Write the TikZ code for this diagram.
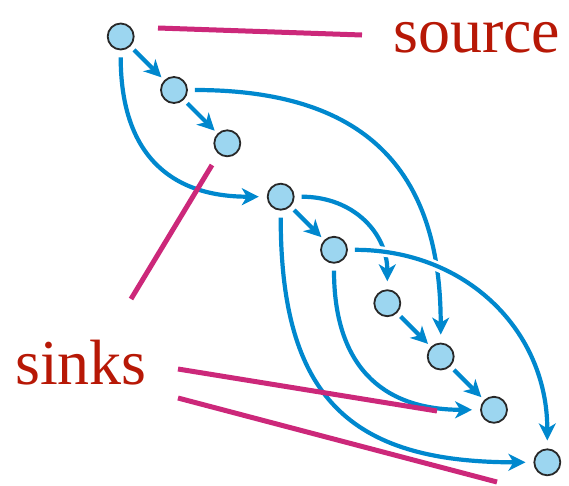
\documentclass[tikz,border=0pt]{standalone}
\usepackage{fontspec}
\setmainfont{Liberation Serif}
\usetikzlibrary{arrows.meta}
\definecolor{edgeblue}{RGB}{0,136,206}
\definecolor{nodefill}{RGB}{156,214,240}
\definecolor{nodeline}{RGB}{40,40,40}
\definecolor{pinkline}{RGB}{204,40,122}
\definecolor{labelred}{RGB}{183,24,6}
\begin{document}
\begin{tikzpicture}[x=1pt,y=-1pt,
  vert/.style={circle,draw=nodeline,fill=nodefill,line width=1.8pt,minimum size=26pt,inner sep=0pt},
  edge/.style={draw=edgeblue,line width=4.2pt,-{Stealth[length=17pt,width=17pt,inset=5pt]},shorten <=5pt,shorten >=4pt},
  curve/.style={edge,shorten <=7pt,shorten >=8pt},
  halo/.style={preaction={draw=white,line width=10pt,-}},
  pointer/.style={draw=pinkline,line width=5pt},
  lbl/.style={text=labelred,font=\fontsize{64}{70}\selectfont,inner sep=0pt}]
\useasboundingbox (0,0) rectangle (569,485);
% vertices
\node[vert] (n1) at (120.7,36.5) {};
\node[vert] (n2) at (174,90) {};
\node[vert] (n3) at (227.3,143.3) {};
\node[vert] (n4) at (280.7,196.7) {};
\node[vert] (n5) at (334,249.8) {};
\node[vert] (n6) at (387.3,303.2) {};
\node[vert] (n7) at (440.7,356.5) {};
\node[vert] (n8) at (494,409.8) {};
\node[vert] (n9) at (547.3,462.3) {};
% straight edges
\draw[edge] (n1) -- (n2);
\draw[edge] (n2) -- (n3);
\draw[edge] (n4) -- (n5);
\draw[edge] (n6) -- (n7);
\draw[edge] (n7) -- (n8);
% curved edges
\draw[curve] (n1.south) .. controls +(0,100) and +(-100,0) .. (n4.west);
\draw[curve] (n2.east) .. controls +(175,0) and +(0,-175) .. (n7.north);
\draw[curve] (n4.east) .. controls +(60,0) and +(0,-55) .. (n6.north);
\draw[curve] (n4.south) .. controls +(0,185) and +(-185,0) .. (n9.west);
\draw[curve] (n5.south) .. controls +(0,100) and +(-100,0) .. (n8.west);
\draw[curve,halo] (n5.east) .. controls +(118,0) and +(0,-118) .. (n9.north);
% labels
\node[lbl,anchor=base west] (src) at (393,52) {source};
\node[lbl,anchor=base west] (snk) at (15,384) {sinks};
% pointers
\coordinate (p1a) at (158,28); \coordinate (p1b) at (362,35);
\coordinate (p2a) at (212,165); \coordinate (p2b) at (131,299);
\coordinate (p3a) at (178,369); \coordinate (p3b) at (437,411);
\coordinate (p4a) at (178,398); \coordinate (p4b) at (497,482);
\draw[pointer] (p1a) -- (p1b);
\draw[pointer] (p2a) -- (p2b);
\draw[pointer] (p3a) -- (p3b);
\draw[pointer] (p4a) -- (p4b);
\end{tikzpicture}
\end{document}
